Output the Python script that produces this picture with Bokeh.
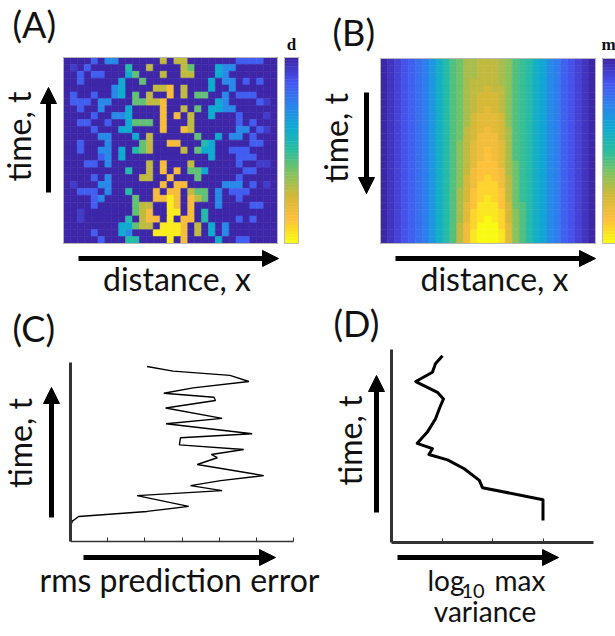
import numpy as np
from bokeh.plotting import figure
from bokeh.models import Range1d, Arrow, NormalHead, FixedTicker, ColumnDataSource
from bokeh.transform import linear_cmap
from bokeh.layouts import column, row
from bokeh.embed import file_html
from bokeh.resources import INLINE
from bokeh.core.properties import value

# ======================= DATA =======================
# Panel A: observed field d on a distance x time grid (31 x 27 cells).
# Level codes 0..9, first string = top row of the picture.
heat_a_rows = [
    "0000203300000070770000000222200",
    "0102000005007000076000433000000",
    "0020220004600070077000430000000",
    "0020000040060000000004033020200",
    "0000000340000778070004003000000",
    "0200200340607008070660030222000",
    "0222033000667780000000430000210",
    "0020030004000080070604433000000",
    "0000200334000080807004000200010",
    "0022002004666080007000000202000",
    "0000200044000080087000000330210",
    "0000033000407000000600403302000",
    "0020003000067008800054000002200",
    "0020033040567000070644002220000",
    "0000023040000000000004000222000",
    "0002203000007080007000000200110",
    "0000000005007080806640000022000",
    "0000203000077008000600000200000",
    "0100033000000080880000033302010",
    "0022203005000808807660302220000",
    "0000230000600889808760300200000",
    "0000200000677009808000300002200",
    "0010000000678009908050000000000",
    "0010000005078809088050000202000",
    "0000000044677099980704030000000",
    "0000200043000999980704030000000",
    "0000020005500009080000400220000",
]
heat_a_levels = [0.0, 0.06, 0.15, 0.27, 0.38, 0.48, 0.58, 0.72, 0.85, 0.97]

# Panel B: smooth field m, letter codes a..z -> 0..1, first string = top row.
heat_b_rows = [
    "abcdefgikmoprrsssrqonmkjhgedcba",
    "abcdefgikmoprrsssrqonmkjhgedcba",
    "abcdefgikmoprrsssrqonmkjhgedcba",
    "abcdefgikmoprssssrqonmkjhgedcba",
    "abcdefgikmoprsstssqonmkjhgedcba",
    "abcdefgikmoprstttsqonmkjhgedcba",
    "abcdefgikmoprstttsqonmkjhgedcba",
    "abcdefgikmoprstutsqonmkjhgedcba",
    "abcdefgikmoprtuuutqonmkjhgedcba",
    "abcdefgikmoprtuuutqonmkjhgedcba",
    "abcdefgikmopstuvutronmkjhgedcba",
    "abcdefgikmopstvvvtronmkjhgedcba",
    "abcdefgikmoqsuvvvuronmkjhgedcba",
    "abcdefgikmoqsuvwvuronmkjhgedcba",
    "abcdefgikmoqsuvwvuronmkjhgedcba",
    "abcdefgikmoqsuwwwurpnmkjhgedcba",
    "abcdefgikmoqsvwwwvrpnmkjhgedcba",
    "abcdefgikmoqtvwxwvspnmkjhgedcba",
    "abcdefgikmoqtvxxxvspnmkjhgedcba",
    "abcdefgikmortwxxxwspnmkjhgedcba",
    "abcdefgikmortwxyxwspnmkjhgedcba",
    "abcdefgikmoruwyyywtpomkjhgedcba",
    "abcdefgikmoruxyyyxtqomkjhgedcba",
    "abcdefgikmoruxyzyxtqomkjhgedcba",
    "abcdefgikmosvxzzzxuqomkjhgedcba",
    "abcdefgikmosvyzzzyuqomkjhgedcba",
    "abcdefgikmosvyzzzyuqomkjhgedcba",
]

# Panel C: rms prediction error versus time
rms_time = [48.9, 47.6, 46.4, 44.7, 42.9, 41.4, 40.3, 39.4, 37.3, 34.4, 32.9, 30.1, 29.0, 27.0,
            25.7, 24.3, 23.4, 21.5, 18.4, 17.0, 15.6, 14.2, 12.8, 9.8, 8.4, 7.0, 5.7, 4.2]
rms_error = [2.06, 2.76, 4.29, 4.80, 3.30, 2.51, 3.86, 3.90, 2.56, 4.08, 2.57, 4.89, 2.96, 2.93,
             4.66, 3.79, 3.95, 3.41, 5.20, 4.04, 3.23, 4.08, 1.79, 3.18, 2.06, 0.22, 0.05, 0.0]
c_xticks = [1, 2, 3, 4, 5, 6]

# Panel D: log10 max variance versus time
var_time = [48.4, 46.3, 44.1, 41.7, 38.9, 37.2, 35.1, 32.0, 28.6, 25.7, 24.3, 22.8, 21.4, 19.1,
            16.1, 14.2, 11.1, 5.7]
var_log10 = [1.01, 0.87, 0.81, 0.48, 0.91, 1.03, 0.96, 0.87, 0.71, 0.51, 0.81, 0.74, 1.11, 1.44,
             1.74, 1.80, 3.00, 3.00]
d_xticks = [1, 2, 3]

labels = {
    "A": "(A)", "B": "(B)", "C": "(C)", "D": "(D)",
    "time": "time, t", "dist": "distance, x", "rms": "rms prediction error",
    "log": "log", "sub": "10", "max": "max", "var": "variance",
    "cbA": "d", "cbB": "m",
}

# ======================= STYLE =======================
PARULA_ANCHORS = [
    (0.000, (62, 38, 168)),
    (0.125, (71, 85, 240)),
    (0.250, (45, 130, 238)),
    (0.375, (15, 170, 210)),
    (0.500, (40, 190, 160)),
    (0.625, (130, 195, 95)),
    (0.750, (210, 185, 55)),
    (0.875, (253, 190, 60)),
    (1.000, (249, 250, 20)),
]


def build_palette(n=256):
    ts = [a[0] for a in PARULA_ANCHORS]
    cols = np.array([a[1] for a in PARULA_ANCHORS], float)
    out = []
    for t in np.linspace(0, 1, n):
        r = np.interp(t, ts, cols[:, 0])
        g = np.interp(t, ts, cols[:, 1])
        b = np.interp(t, ts, cols[:, 2])
        out.append("#%02x%02x%02x" % (int(round(r)), int(round(g)), int(round(b))))
    return out


PAL = build_palette()
FONT = "Lato"
LABEL_SIZE = "32px"
SMALL_LABEL_SIZE = "28px"
LETTER_SIZE = "36px"
INK = "#111111"
AXIS_INK = "#333333"
# the text glyph sits lower than the requested alphabetic baseline; compensate
SHIFT_H = 12      # for horizontal 32-36px text (pixels up)
SHIFT_ROT = 13    # for rotated text (pixels left)


def make_panel(fig_box, px_box, data_box):
    FX, FY, FW, FH = fig_box
    X0, X1, Yt, Yb = px_box
    x0, x1, y0, y1 = data_box
    kx = (x1 - x0) / (X1 - X0)
    ky = (y1 - y0) / (Yb - Yt)

    def to_data(X, Y):
        return x0 + (X - X0) * kx, y0 + (Yb - Y) * ky

    xs, ye = to_data(FX, FY)
    xe, ys = to_data(FX + FW, FY + FH)
    p = figure(width=FW, height=FH, x_range=Range1d(xs, xe), y_range=Range1d(ys, ye),
               min_border=0, toolbar_location=None, tools="", output_backend="svg")
    p.title.visible = False
    p.outline_line_color = None
    p.grid.visible = False
    p.background_fill_color = "white"
    p.border_fill_color = "white"
    return p, to_data


def add_text(p, to_data, X, Y, s, size=LABEL_SIZE, align="left", baseline="alphabetic",
             angle=0.0, font=FONT, style="normal"):
    x, y = to_data(X, Y)
    p.text(x=[x], y=[y], text=[s], text_font=value(font), text_font_size=size,
           text_align=align, text_baseline=baseline, angle=angle,
           text_font_style=style, text_color=INK)


def add_arrow(p, to_data, X1, Y1, X2, Y2):
    xs, ys = to_data(X1, Y1)
    xe, ye = to_data(X2, Y2)
    p.add_layout(Arrow(end=NormalHead(size=16, fill_color="black", line_color="black", line_width=1),
                       x_start=xs, y_start=ys, x_end=xe, y_end=ye,
                       line_width=5, line_color="black"))


def grid_source(rows, decode):
    nr = len(rows)
    nc = max(len(r) for r in rows)
    xs, ys, vs = [], [], []
    for r, s in enumerate(rows):
        s = s.ljust(nc, s[-1])
        for c, ch in enumerate(s):
            xs.append(c + 0.5)
            ys.append(nr - r - 0.5)
            vs.append(decode(ch))
    return ColumnDataSource(dict(x=xs, y=ys, v=vs)), nc, nr


def draw_heat(p, rows, decode):
    src, nc, nr = grid_source(rows, decode)
    cmap = linear_cmap("v", PAL, 0, 1)
    p.rect("x", "y", 1, 1, source=src, fill_color=cmap, line_color=cmap, line_width=0.6)
    p.quad(left=[0], right=[nc], bottom=[0], top=[nr], fill_color=None,
           line_color="#b8b8b8", line_width=1)
    return nc, nr


def draw_colorbar(p, to_data, Xl, Xr, nr):
    xl = to_data(Xl, 0)[0]
    xr = to_data(Xr, 0)[0]
    n = 60
    levels = np.linspace(0, 1, n)   # colorbar gradient (dark at top, yellow at bottom)
    h = nr / n
    ys = [nr - (i + 0.5) * h for i in range(n)]
    src = ColumnDataSource(dict(y=ys, v=list(levels)))
    cmap = linear_cmap("v", PAL, 0, 1)
    p.rect(x=(xl + xr) / 2, y="y", width=xr - xl, height=h, source=src,
           fill_color=cmap, line_color=cmap, line_width=0.6)
    p.quad(left=[xl], right=[xr], bottom=[0], top=[nr], fill_color=None,
           line_color="#b8b8b8", line_width=1)


# ======================= PANEL A =======================
pA, tA = make_panel((0, 0, 310, 300), (63, 277, 57, 243), (0, 31, 0, 27))
pA.axis.visible = False
ncA, nrA = draw_heat(pA, heat_a_rows, lambda ch: heat_a_levels[int(ch)])
draw_colorbar(pA, tA, 284, 298, nrA)
add_text(pA, tA, 12, 35 - SHIFT_H, labels["A"], size=LETTER_SIZE)
add_text(pA, tA, 31 - SHIFT_ROT, 136, labels["time"], align="center", angle=np.pi / 2)
add_text(pA, tA, 176.5, 290 - SHIFT_H, labels["dist"], align="center")
add_text(pA, tA, 291, 50 - 6, labels["cbA"], size="17px", align="center",
         font="Liberation Serif", style="bold")
add_arrow(pA, tA, 48, 192, 48, 87)
add_arrow(pA, tA, 78, 258, 278, 258)

# ======================= PANEL B =======================
pB, tB = make_panel((310, 0, 305, 300), (380, 595, 58, 243), (0, 31, 0, 27))
pB.axis.visible = False
ncB, nrB = draw_heat(pB, heat_b_rows, lambda ch: (ord(ch) - ord("a")) / 25.0)
draw_colorbar(pB, tB, 602, 616, nrB)
add_text(pB, tB, 332, 43 - SHIFT_H, labels["B"], size=LETTER_SIZE)
add_text(pB, tB, 348 - SHIFT_ROT, 137.5, labels["time"], align="center", angle=np.pi / 2)
add_text(pB, tB, 494, 290 - SHIFT_H, labels["dist"], align="center")
add_text(pB, tB, 601, 50 - 6, labels["cbB"], size="17px", font="Liberation Serif", style="bold")
add_arrow(pB, tB, 366, 92, 366, 193)
add_arrow(pB, tB, 395, 258, 595, 258)


def style_axes(p, xticks, xbounds, ybounds, xw, yw):
    p.xaxis.fixed_location = 0
    p.xaxis.bounds = xbounds
    p.xaxis.ticker = FixedTicker(ticks=xticks)
    p.xaxis.major_tick_in = 4
    p.xaxis.major_tick_out = 0
    p.xaxis.major_tick_line_color = AXIS_INK
    p.xaxis.minor_tick_line_color = None
    p.xaxis.major_label_text_color = None
    p.xaxis.axis_line_width = xw
    p.xaxis.axis_line_color = AXIS_INK
    p.yaxis.fixed_location = 0
    p.yaxis.bounds = ybounds
    p.yaxis.ticker = FixedTicker(ticks=[])
    p.yaxis.major_tick_line_color = None
    p.yaxis.minor_tick_line_color = None
    p.yaxis.major_label_text_color = None
    p.yaxis.axis_line_width = yw
    p.yaxis.axis_line_color = AXIS_INK


# ======================= PANEL C =======================
pC, tC = make_panel((0, 300, 325, 336), (70, 293, 362, 541), (0, 6, 0, 50))
style_axes(pC, c_xticks, (0, 6), (0, 50), 1.5, 3)
pC.line(rms_error, rms_time, line_color="black", line_width=1.4)
add_text(pC, tC, 12, 339 - SHIFT_H, labels["C"], size=LETTER_SIZE)
add_text(pC, tC, 32 - SHIFT_ROT, 442.5, labels["time"], align="center", angle=np.pi / 2)
add_text(pC, tC, 179, 591 - SHIFT_H, labels["rms"], align="center")
add_arrow(pC, tC, 51, 517, 51, 387)
add_arrow(pC, tC, 83, 557, 275, 557)

# ======================= PANEL D =======================
pD, tD = make_panel((325, 300, 290, 336), (391, 593, 349, 542), (0, 4, 0, 50))
style_axes(pD, d_xticks, (0, 4), (0, 50), 3, 3)
pD.line(var_log10, var_time, line_color="black", line_width=3, line_join="round")
add_text(pD, tD, 333, 334 - SHIFT_H, labels["D"], size=LETTER_SIZE)
add_text(pD, tD, 362 - SHIFT_ROT, 440, labels["time"], align="center", angle=np.pi / 2)
add_text(pD, tD, 427, 590 - 11, labels["log"], size=SMALL_LABEL_SIZE)
add_text(pD, tD, 461, 598 - 8, labels["sub"], size="20px")
add_text(pD, tD, 494, 590 - 11, labels["max"], size=SMALL_LABEL_SIZE)
add_text(pD, tD, 484.5, 621 - 11, labels["var"], size=SMALL_LABEL_SIZE, align="center")
add_arrow(pD, tD, 376, 512, 376, 375)
add_arrow(pD, tD, 397, 557, 558, 557)

layout = column(row(pA, pB, spacing=0), row(pC, pD, spacing=0), spacing=0)
open("out.html", "w").write(file_html(layout, INLINE))
